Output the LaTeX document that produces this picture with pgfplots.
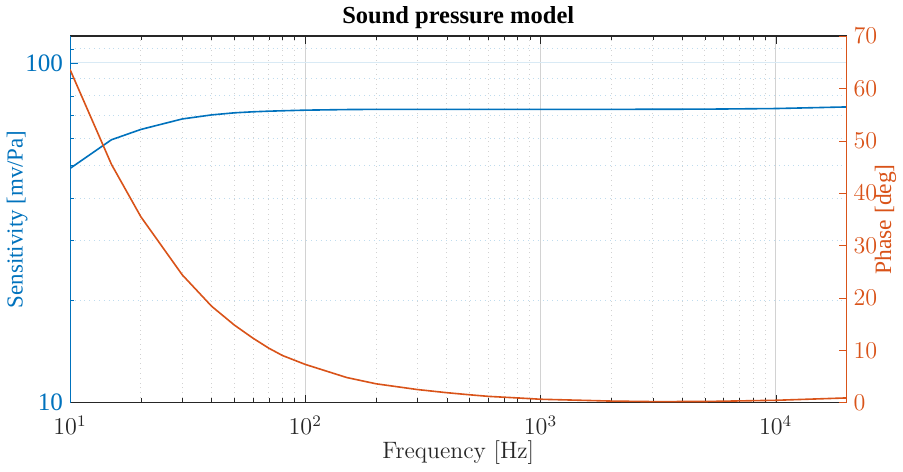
\documentclass[border=0pt]{standalone}
\usepackage{pgfplots}
\pgfplotsset{compat=1.18}
\usepackage{fontspec}
\newfontfamily\tnr{Liberation Serif}
\definecolor{mblue}{rgb}{0,0.447,0.741}
\definecolor{morange}{rgb}{0.85,0.325,0.098}
\definecolor{mgray}{rgb}{0.15,0.15,0.15}

\begin{document}
\begin{tikzpicture}
\begin{axis}[
    scale only axis,
    width=386.5pt, height=182.5pt,
    xmode=log, ymode=log,
    xmin=10, xmax=20000, ymin=10, ymax=120,
    axis y line*=left, axis x line*=box,
    x axis line style={mgray, line width=0.5pt},
    y axis line style={mblue, line width=0.5pt},
    xtick={10,100,1000,10000},
    ytick={10,100},
    yticklabels={10,100},
    minor ytick={20,30,40,50,60,70,80,90,110},
    xtick pos=both, xticklabel pos=lower,
    x tick style={mgray}, y tick style={mblue},
    major tick length=4pt, minor tick length=2.2pt,
    xticklabel style={font=\fontsize{11.5}{13}\selectfont, text=mgray, yshift=-3pt},
    yticklabel style={font=\tnr\fontsize{12.5}{14}\selectfont, text=mblue},
    grid=both,
    major x grid style={gray!35, line width=0.4pt},
    minor x grid style={gray!35, dotted, line width=0.4pt},
    major y grid style={mblue!15, line width=0.4pt},
    minor y grid style={mblue!25, dotted, line width=0.4pt},
    xlabel={Frequency [Hz]},
    xlabel style={font=\fontsize{11.8}{13}\selectfont, text=mgray, yshift=4pt},
    ylabel={Sensitivity [mv/Pa]},
    ylabel style={font=\tnr\fontsize{11.4}{13}\selectfont, text=mblue, yshift=-8pt},
    title={Sound pressure model},
    title style={font=\tnr\bfseries\fontsize{12.2}{14}\selectfont, yshift=-6pt},
]
\addplot[mblue, line width=0.8pt] coordinates {
(10,48.9) (15,59.4) (20,63.7) (30,68.4) (40,70.3) (50,71.3) (60,71.8)
(70,72.1) (80,72.3) (100,72.6) (150,72.9) (200,73.0) (500,73.0)
(1000,73.0) (2000,73.0) (5000,73.1) (10000,73.4) (20000,74.2)
};
\end{axis}
\begin{axis}[
    scale only axis,
    width=386.5pt, height=182.5pt,
    xmode=log,
    xmin=10, xmax=20000, ymin=0, ymax=70,
    axis y line*=right, axis x line=none,
    y axis line style={morange, line width=0.5pt},
    ytick={0,10,...,70},
    y tick style={morange},
    major tick length=4pt,
    yticklabel style={font=\tnr\fontsize{12.5}{14}\selectfont, text=morange},
    ylabel={Phase [deg]},
    ylabel style={font=\tnr\fontsize{11.7}{13}\selectfont, text=morange, yshift=8pt},
]
\addplot[morange, line width=0.8pt] coordinates {
(10,63.6) (15,45.5) (20,35.5) (30,24.4) (40,18.4) (50,14.8) (60,12.3)
(70,10.4) (80,9.0) (100,7.3) (150,4.8) (200,3.6) (300,2.5) (400,1.9)
(500,1.5) (600,1.2) (800,0.9) (1000,0.65) (2000,0.3) (3000,0.2)
(5000,0.22) (10000,0.45) (20000,0.9)
};
\end{axis}
\end{tikzpicture}
\end{document}
